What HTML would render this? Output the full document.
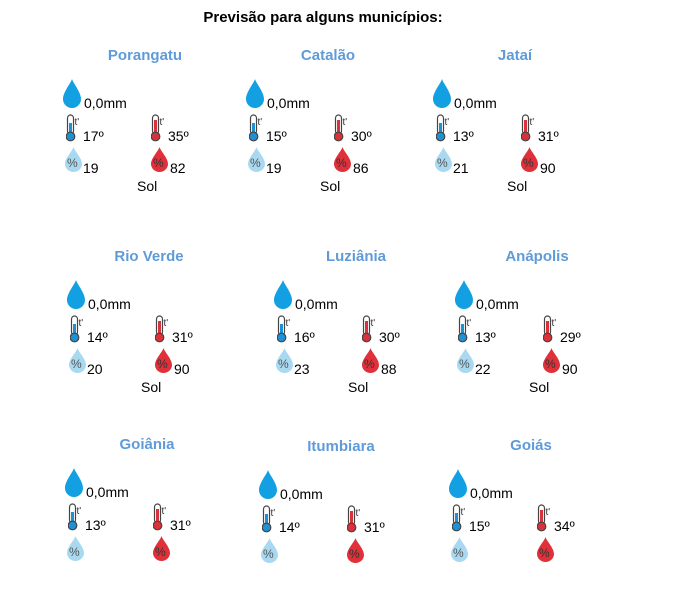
<!DOCTYPE html>
<html><head><meta charset="utf-8"><style>
body{margin:0;width:686px;height:539px;background:#fff;overflow:hidden;position:relative;font-family:"Liberation Sans",Arial,sans-serif;}
.h{position:absolute;left:0;width:646px;top:9px;text-align:center;font-weight:bold;font-size:15px;color:#000;}
.b{position:absolute;width:200px;height:150px;}
.b>*{position:absolute;}
.t{left:-18px;width:200px;text-align:center;top:-9px;font-weight:bold;font-size:15px;color:#5f9bd8;}
.x{font-size:14px;color:#000;line-height:14px;}
</style></head><body>
<div class="h">Previsão para alguns municípios:</div>
<svg width="0" height="0" style="position:absolute">
<defs>
<symbol id="drop" viewBox="0 0 18 29"><path d="M9 0 C8 4 0 13 0 20 A9 9 0 0 0 18 20 C18 13 10 4 9 0Z" fill="#12a0e2"/></symbol>
<symbol id="tb" viewBox="0 0 14 28"><rect x="1.5" y="1" width="6" height="19" rx="3" fill="#fff" stroke="#444" stroke-width="1.2"/><rect x="3" y="9" width="3" height="13" fill="#1e90d6"/><circle cx="4.5" cy="22.5" r="4.3" fill="#1e90d6" stroke="#444" stroke-width="1.2"/><text x="8.5" y="11" font-size="10" font-family="Liberation Sans" fill="#333">t'</text></symbol>
<symbol id="tr" viewBox="0 0 14 28"><rect x="1.5" y="1" width="6" height="19" rx="3" fill="#fff" stroke="#444" stroke-width="1.2"/><rect x="3" y="6" width="3" height="16" fill="#d9323a"/><circle cx="4.5" cy="22.5" r="4.3" fill="#d9323a" stroke="#444" stroke-width="1.2"/><text x="8.5" y="11" font-size="10" font-family="Liberation Sans" fill="#333">t'</text></symbol>
<symbol id="pb" viewBox="0 0 17 25"><path d="M8.5 0 C7.5 4 0 11 0 17 A8.5 8 0 0 0 17 17 C17 11 9.5 4 8.5 0Z" fill="#a9d9f0"/><text x="2" y="20" font-size="12" font-family="Liberation Sans" fill="#555">%</text></symbol>
<symbol id="pr" viewBox="0 0 17 25"><path d="M8.5 0 C7.5 4 0 11 0 17 A8.5 8 0 0 0 17 17 C17 11 9.5 4 8.5 0Z" fill="#e0303a"/><text x="2" y="20" font-size="12" font-family="Liberation Sans" fill="#333">%</text></symbol>
</defs></svg>

<div class="b" style="left:63px;top:56px"><div class="t">Porangatu</div>
<svg style="left:0;top:23px" width="18" height="29"><use href="#drop"/></svg><div class="x" style="left:21px;top:40px">0,0mm</div>
<svg style="left:3px;top:58px" width="14" height="28"><use href="#tb"/></svg><div class="x" style="left:20px;top:73px">17º</div>
<svg style="left:88px;top:58px" width="14" height="28"><use href="#tr"/></svg><div class="x" style="left:105px;top:73px">35º</div>
<svg style="left:2px;top:91px" width="17" height="25"><use href="#pb"/></svg><div class="x" style="left:20px;top:105px">19</div>
<svg style="left:88px;top:91px" width="17" height="25"><use href="#pr"/></svg><div class="x" style="left:107px;top:105px">82</div>
<div class="x" style="left:74px;top:123px">Sol</div></div>

<div class="b" style="left:246px;top:56px"><div class="t">Catalão</div>
<svg style="left:0;top:23px" width="18" height="29"><use href="#drop"/></svg><div class="x" style="left:21px;top:40px">0,0mm</div>
<svg style="left:3px;top:58px" width="14" height="28"><use href="#tb"/></svg><div class="x" style="left:20px;top:73px">15º</div>
<svg style="left:88px;top:58px" width="14" height="28"><use href="#tr"/></svg><div class="x" style="left:105px;top:73px">30º</div>
<svg style="left:2px;top:91px" width="17" height="25"><use href="#pb"/></svg><div class="x" style="left:20px;top:105px">19</div>
<svg style="left:88px;top:91px" width="17" height="25"><use href="#pr"/></svg><div class="x" style="left:107px;top:105px">86</div>
<div class="x" style="left:74px;top:123px">Sol</div></div>

<div class="b" style="left:433px;top:56px"><div class="t">Jataí</div>
<svg style="left:0;top:23px" width="18" height="29"><use href="#drop"/></svg><div class="x" style="left:21px;top:40px">0,0mm</div>
<svg style="left:3px;top:58px" width="14" height="28"><use href="#tb"/></svg><div class="x" style="left:20px;top:73px">13º</div>
<svg style="left:88px;top:58px" width="14" height="28"><use href="#tr"/></svg><div class="x" style="left:105px;top:73px">31º</div>
<svg style="left:2px;top:91px" width="17" height="25"><use href="#pb"/></svg><div class="x" style="left:20px;top:105px">21</div>
<svg style="left:88px;top:91px" width="17" height="25"><use href="#pr"/></svg><div class="x" style="left:107px;top:105px">90</div>
<div class="x" style="left:74px;top:123px">Sol</div></div>

<div class="b" style="left:67px;top:257px"><div class="t">Rio Verde</div>
<svg style="left:0;top:23px" width="18" height="29"><use href="#drop"/></svg><div class="x" style="left:21px;top:40px">0,0mm</div>
<svg style="left:3px;top:58px" width="14" height="28"><use href="#tb"/></svg><div class="x" style="left:20px;top:73px">14º</div>
<svg style="left:88px;top:58px" width="14" height="28"><use href="#tr"/></svg><div class="x" style="left:105px;top:73px">31º</div>
<svg style="left:2px;top:91px" width="17" height="25"><use href="#pb"/></svg><div class="x" style="left:20px;top:105px">20</div>
<svg style="left:88px;top:91px" width="17" height="25"><use href="#pr"/></svg><div class="x" style="left:107px;top:105px">90</div>
<div class="x" style="left:74px;top:123px">Sol</div></div>

<div class="b" style="left:274px;top:257px"><div class="t">Luziânia</div>
<svg style="left:0;top:23px" width="18" height="29"><use href="#drop"/></svg><div class="x" style="left:21px;top:40px">0,0mm</div>
<svg style="left:3px;top:58px" width="14" height="28"><use href="#tb"/></svg><div class="x" style="left:20px;top:73px">16º</div>
<svg style="left:88px;top:58px" width="14" height="28"><use href="#tr"/></svg><div class="x" style="left:105px;top:73px">30º</div>
<svg style="left:2px;top:91px" width="17" height="25"><use href="#pb"/></svg><div class="x" style="left:20px;top:105px">23</div>
<svg style="left:88px;top:91px" width="17" height="25"><use href="#pr"/></svg><div class="x" style="left:107px;top:105px">88</div>
<div class="x" style="left:74px;top:123px">Sol</div></div>

<div class="b" style="left:455px;top:257px"><div class="t">Anápolis</div>
<svg style="left:0;top:23px" width="18" height="29"><use href="#drop"/></svg><div class="x" style="left:21px;top:40px">0,0mm</div>
<svg style="left:3px;top:58px" width="14" height="28"><use href="#tb"/></svg><div class="x" style="left:20px;top:73px">13º</div>
<svg style="left:88px;top:58px" width="14" height="28"><use href="#tr"/></svg><div class="x" style="left:105px;top:73px">29º</div>
<svg style="left:2px;top:91px" width="17" height="25"><use href="#pb"/></svg><div class="x" style="left:20px;top:105px">22</div>
<svg style="left:88px;top:91px" width="17" height="25"><use href="#pr"/></svg><div class="x" style="left:107px;top:105px">90</div>
<div class="x" style="left:74px;top:123px">Sol</div></div>

<div class="b" style="left:65px;top:445px"><div class="t">Goiânia</div>
<svg style="left:0;top:23px" width="18" height="29"><use href="#drop"/></svg><div class="x" style="left:21px;top:40px">0,0mm</div>
<svg style="left:3px;top:58px" width="14" height="28"><use href="#tb"/></svg><div class="x" style="left:20px;top:73px">13º</div>
<svg style="left:88px;top:58px" width="14" height="28"><use href="#tr"/></svg><div class="x" style="left:105px;top:73px">31º</div>
<svg style="left:2px;top:91px" width="17" height="25"><use href="#pb"/></svg>
<svg style="left:88px;top:91px" width="17" height="25"><use href="#pr"/></svg></div>

<div class="b" style="left:259px;top:447px"><div class="t">Itumbiara</div>
<svg style="left:0;top:23px" width="18" height="29"><use href="#drop"/></svg><div class="x" style="left:21px;top:40px">0,0mm</div>
<svg style="left:3px;top:58px" width="14" height="28"><use href="#tb"/></svg><div class="x" style="left:20px;top:73px">14º</div>
<svg style="left:88px;top:58px" width="14" height="28"><use href="#tr"/></svg><div class="x" style="left:105px;top:73px">31º</div>
<svg style="left:2px;top:91px" width="17" height="25"><use href="#pb"/></svg>
<svg style="left:88px;top:91px" width="17" height="25"><use href="#pr"/></svg></div>

<div class="b" style="left:449px;top:446px"><div class="t">Goiás</div>
<svg style="left:0;top:23px" width="18" height="29"><use href="#drop"/></svg><div class="x" style="left:21px;top:40px">0,0mm</div>
<svg style="left:3px;top:58px" width="14" height="28"><use href="#tb"/></svg><div class="x" style="left:20px;top:73px">15º</div>
<svg style="left:88px;top:58px" width="14" height="28"><use href="#tr"/></svg><div class="x" style="left:105px;top:73px">34º</div>
<svg style="left:2px;top:91px" width="17" height="25"><use href="#pb"/></svg>
<svg style="left:88px;top:91px" width="17" height="25"><use href="#pr"/></svg></div>
</body></html>
